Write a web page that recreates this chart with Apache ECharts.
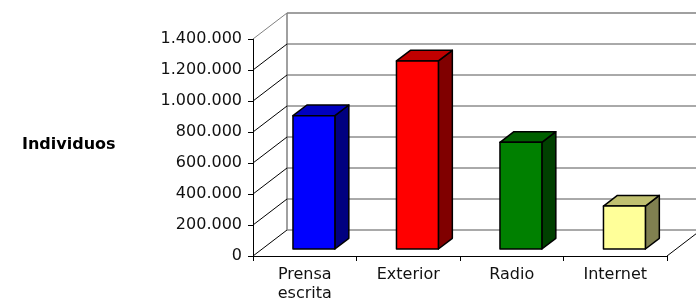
<!DOCTYPE html>
<html>
<head>
<meta charset="utf-8">
<script src="https://cdn.jsdelivr.net/npm/echarts@6/dist/echarts.min.js"></script>
<style>
  html, body { margin: 0; padding: 0; background: #fff; }
  #chart { width: 696px; height: 308px; }
</style>
</head>
<body>
<div id="chart"></div>
<script>
// datos
const categories = ["Prensa escrita", "Exterior", "Radio", "Internet"]
const individuos = [860000, 1213000, 688000, 277000]
const yTicks = [0, 200000, 400000, 600000, 800000, 1000000, 1200000, 1400000]

// colores de cada barra: frente, arriba, lado
const barColors = [
  ["#0000ff", "#0000c0", "#000080"],
  ["#ff0000", "#c00000", "#800000"],
  ["#008000", "#006000", "#004000"],
  ["#ffff99", "#c0c070", "#808050"],
]

// profundidad 3D (pixeles)
const DX = 34
const DY = -26

const fmt = (v) => String(v).replace(/\B(?=(\d{3})+(?!\d))/g, ".")

const chart = echarts.init(document.getElementById("chart"))

const option = {
  animation: false,
  grid: { left: 253, right: 29, top: 39, bottom: 52 },
  graphic: [
    {
      type: "text",
      left: 22,
      top: 137,
      style: {
        text: "Individuos",
        font: "bold 16px 'DejaVu Sans'",
        fill: "#000",
      },
    },
  ],
  xAxis: {
    type: "category",
    data: categories,
    axisLine: { lineStyle: { color: "#000", width: 1 } },
    axisTick: { show: true, length: 5, interval: 0, lineStyle: { color: "#000" } },
    axisLabel: {
      interval: 0,
      margin: 9,
      fontSize: 16,
      lineHeight: 19,
      color: "#111",
      fontFamily: "DejaVu Sans",
      formatter: (v) => v.replace(" ", "\n"),
    },
    splitLine: { show: false },
  },
  yAxis: {
    type: "value",
    min: 0,
    max: 1400000,
    interval: 200000,
    axisLine: { show: true, lineStyle: { color: "#000", width: 1 } },
    axisTick: { show: true, length: 5, lineStyle: { color: "#000" } },
    axisLabel: {
      margin: 11,
      fontSize: 16,
      color: "#111",
      fontFamily: "DejaVu Sans",
      formatter: fmt,
    },
    splitLine: { show: false },
  },
  series: [
    {
      // paredes y lineas de division
      type: "custom",
      clip: false,
      silent: true,
      z: 1,
      data: yTicks.map((v) => [0, v]),
      renderItem(params, api) {
        const cs = params.coordSys
        const left = cs.x
        const right = cs.x + cs.width
        const v = api.value(1)
        const y = api.coord([0, v])[1]
        const isTop = v === yTicks[yTicks.length - 1]
        const children = [
          {
            type: "line",
            shape: { x1: left, y1: y, x2: left + DX, y2: y + DY },
            style: { stroke: isTop ? "#808080" : "#000", lineWidth: 1 },
          },
          {
            type: "line",
            shape: { x1: left + DX, y1: y + DY, x2: right + DX, y2: y + DY },
            style: { stroke: isTop ? "#808080" : "#555", lineWidth: isTop ? 1.5 : 1 },
          },
        ]
        if (v === 0) {
          const yTop = api.coord([0, yTicks[yTicks.length - 1]])[1]
          children.push({
            type: "line",
            shape: { x1: right, y1: y, x2: right + DX, y2: y + DY },
            style: { stroke: "#000", lineWidth: 1 },
          })
          children.push({
            type: "line",
            shape: { x1: left + DX, y1: yTop + DY, x2: left + DX, y2: y + DY },
            style: { stroke: "#808080", lineWidth: 1.5 },
          })
        }
        return { type: "group", children }
      },
    },
    {
      // barras 3D
      type: "custom",
      clip: false,
      z: 5,
      data: individuos.map((v, i) => [i, v]),
      renderItem(params, api) {
        const i = api.value(0)
        const base = api.coord([i, 0])
        const top = api.coord([i, api.value(1)])
        const w = api.size([1, 0])[0] * 0.405
        const ox = DX * 0.27
        const oy = DY * 0.27
        const sx = DX * 0.41
        const sy = DY * 0.41
        const x0 = base[0] - w / 2 + ox
        const x1 = x0 + w
        const yb = base[1] + oy
        const yt = top[1] + oy
        const c = barColors[i]
        const st = { stroke: "#000", lineWidth: 1.5, lineJoin: "round" }
        return {
          type: "group",
          children: [
            {
              type: "polygon",
              shape: { points: [[x1, yt], [x1 + sx, yt + sy], [x1 + sx, yb + sy], [x1, yb]] },
              style: Object.assign({ fill: c[2] }, st),
            },
            {
              type: "polygon",
              shape: { points: [[x0, yt], [x1, yt], [x1 + sx, yt + sy], [x0 + sx, yt + sy]] },
              style: Object.assign({ fill: c[1] }, st),
            },
            {
              type: "rect",
              shape: { x: x0, y: yt, width: w, height: yb - yt },
              style: Object.assign({ fill: c[0] }, st),
            },
          ],
        }
      },
    },
  ],
}

chart.setOption(option)
</script>
</body>
</html>
